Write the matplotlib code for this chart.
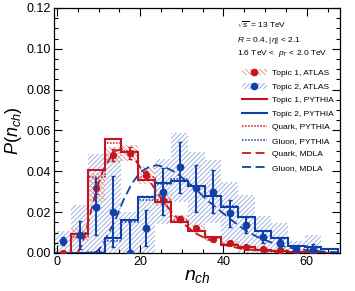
import numpy as np
import matplotlib
matplotlib.use("Agg")
import matplotlib.pyplot as plt
from matplotlib.patches import Patch
from matplotlib.lines import Line2D
from matplotlib.ticker import MultipleLocator, FormatStrFormatter

plt.rcParams['font.family'] = ['Liberation Sans', 'DejaVu Sans']
plt.rcParams['mathtext.fontset'] = 'custom'
plt.rcParams['mathtext.rm'] = 'Liberation Sans'
plt.rcParams['mathtext.it'] = 'Liberation Sans:italic'
plt.rcParams['hatch.linewidth'] = 0.6

# ── data (bins of width 4, centres 1.5 ... 65.5) ─────────────────────
bin_edges = [-0.5, 3.5, 7.5, 11.5, 15.5, 19.5, 23.5, 27.5, 31.5, 35.5,
             39.5, 43.5, 47.5, 51.5, 55.5, 59.5, 63.5, 67.5]
n_centres = [1.5, 5.5, 9.5, 13.5, 17.5, 21.5, 25.5, 29.5, 33.5, 37.5,
             41.5, 45.5, 49.5, 53.5, 57.5, 61.5, 65.5]

# Topic 1, ATLAS
t1_atlas = [0.0, 0.009, 0.032, 0.048, 0.049, 0.038, 0.026, 0.0166, 0.012, 0.007,
            0.005, 0.003, 0.002, 0.0014, 0.0009, 0.0005, np.nan]
t1_stat = [0.0005, 0.001, 0.003, 0.003, 0.003, 0.002, 0.002, 0.0015, 0.0012, 0.001,
           0.0008, 0.0006, 0.0005, 0.0004, 0.0003, 0.0002, 0.0]
t1_syst = [0.001, 0.003, 0.007, 0.004, 0.004, 0.004, 0.003, 0.002, 0.0015, 0.0012,
           0.001, 0.0008, 0.0006, 0.0004, 0.0003, 0.0002, 0.0]

# Topic 2, ATLAS
t2_atlas = [0.006, 0.0088, 0.0227, 0.0202, 0.0, 0.0123, 0.030, 0.042, 0.0317, 0.030,
            0.0194, 0.0137, 0.008, 0.0047, 0.002, 0.0015, np.nan]
t2_stat = [0.002, 0.0068, 0.014, 0.0175, 0.016, 0.009, 0.0115, 0.0125, 0.0115, 0.0105,
           0.0065, 0.004, 0.003, 0.002, 0.0015, 0.003, 0.0]
t2_syst = [0.005, 0.0147, 0.026, 0.029, 0.02, 0.016, 0.016, 0.017, 0.018, 0.0155,
           0.0156, 0.0147, 0.010, 0.010, 0.004, 0.0073, 0.0]

# PYTHIA histograms
t1_pythia = [0.0, 0.0095, 0.0405, 0.056, 0.0496, 0.0357, 0.025, 0.015, 0.011, 0.008,
             0.004, 0.003, 0.0015, 0.001, 0.0005, 0.0003, 0.0002]
t2_pythia = [0.0, 0.0, 0.0, 0.0072, 0.016, 0.0274, 0.0345, 0.0355, 0.033, 0.028,
             0.0225, 0.0176, 0.011, 0.0073, 0.0034, 0.003, 0.002]
quark_pythia = [0.0, 0.008, 0.0374, 0.0537, 0.050, 0.037, 0.026, 0.016, 0.011, 0.0075,
                0.0045, 0.003, 0.0017, 0.001, 0.0006, 0.0003, 0.0002]
gluon_pythia = [0.0, 0.0, 0.0005, 0.006, 0.015, 0.026, 0.034, 0.036, 0.033, 0.028,
                0.023, 0.0175, 0.011, 0.0075, 0.0035, 0.003, 0.002]

# MDLA curves
quark_mdla_n = [5, 6, 7, 8, 9, 10, 11, 12, 14, 16, 18, 20, 22, 24, 26, 28, 30, 33,
                36, 40, 44, 48, 52, 56, 60, 64, 68]
quark_mdla = [0.0, 0.004, 0.011, 0.019, 0.027, 0.034, 0.040, 0.044, 0.050, 0.051,
              0.048, 0.042, 0.036, 0.030, 0.024, 0.019, 0.015, 0.010, 0.0068, 0.004,
              0.0022, 0.0012, 0.0006, 0.0003, 0.00015, 0.00008, 0.00004]
gluon_mdla_n = [9, 10, 11, 12, 13, 14, 15, 16, 17, 18, 20, 22, 24, 26, 28, 30, 33,
                36, 39, 42, 45, 48, 51, 54, 57, 60, 64, 68]
gluon_mdla = [0.0, 0.0015, 0.004, 0.008, 0.012, 0.016, 0.021, 0.026, 0.030, 0.034,
              0.0395, 0.042, 0.043, 0.042, 0.040, 0.037, 0.032, 0.026, 0.021, 0.016,
              0.0115, 0.008, 0.0055, 0.0035, 0.0022, 0.0014, 0.0007, 0.0003]

RED = "#c4161c"
BLUE = "#123fa8"
RED_HATCH = "#e48888"
BLUE_HATCH = "#8ea6d8"
RED_PAT = "\\" * 7
BLUE_PAT = "/" * 7

fig = plt.figure(figsize=(3.55, 2.91), dpi=100)
ax = fig.add_axes([0.152, 0.1306, 0.806, 0.842])

# ── systematic boxes ────────────────────────────────────────────────
def syst_boxes(vals, syst, hatch, color, z):
    v = np.array(vals, dtype=float)
    s = np.array(syst, dtype=float)
    lo = np.clip(v - s, 0, None)
    hi = v + s
    ok = ~np.isnan(v)
    ax.bar(np.array(n_centres)[ok], (hi - lo)[ok], bottom=lo[ok], width=4,
           facecolor="none", edgecolor=color, hatch=hatch, linewidth=0, zorder=z)

syst_boxes(t2_atlas, t2_syst, BLUE_PAT, BLUE_HATCH, 1)
syst_boxes(t1_atlas, t1_syst, RED_PAT, RED_HATCH, 2)

# ── PYTHIA histograms ───────────────────────────────────────────────
ax.stairs(t1_pythia, bin_edges, color=RED, linewidth=1.5, zorder=4)
ax.stairs(t2_pythia, bin_edges, color=BLUE, linewidth=1.5, zorder=4)
ax.stairs(quark_pythia, bin_edges, color=RED, linewidth=1.1, linestyle=(0, (1, 1)), zorder=5)
ax.stairs(gluon_pythia, bin_edges, color=BLUE, linewidth=1.1, linestyle=(0, (1, 1)), zorder=5)

# ── MDLA ────────────────────────────────────────────────────────────
ax.plot(quark_mdla_n, quark_mdla, color=RED, linewidth=1.3, dashes=(5, 2.5), zorder=6)
ax.plot(gluon_mdla_n, gluon_mdla, color=BLUE, linewidth=1.3, dashes=(5, 2.5), zorder=6)

# ── data points ─────────────────────────────────────────────────────
ax.errorbar(n_centres, t1_atlas, yerr=t1_stat, fmt="o", color=RED, markersize=4.2,
            elinewidth=1.2, capsize=1.5, capthick=1.0, zorder=7)
ax.errorbar(n_centres, t2_atlas, yerr=t2_stat, fmt="o", color=BLUE, markersize=4.6,
            elinewidth=1.4, capsize=1.5, capthick=1.0, zorder=8)

ax.set_xlim(-0.7, 68)
ax.set_ylim(0, 0.12)
ax.xaxis.set_major_locator(MultipleLocator(20))
ax.xaxis.set_minor_locator(MultipleLocator(5))
ax.yaxis.set_major_locator(MultipleLocator(0.02))
ax.yaxis.set_minor_locator(MultipleLocator(0.005))
ax.yaxis.set_major_formatter(FormatStrFormatter("%.2f"))
ax.tick_params(which="both", direction="in", top=True, right=True, labelsize=9,
               width=0.8, pad=2)
ax.tick_params(which="major", length=6)
ax.tick_params(which="minor", length=3)
for sp in ax.spines.values():
    sp.set_linewidth(0.9)

ax.set_xlabel(r"$n_{ch}$", fontsize=14, labelpad=0)
ax.set_ylabel(r"$P(n_{ch})$", fontsize=13, labelpad=2)

# ── annotations ─────────────────────────────────────────────────────
ax.text(0.64, 0.93, r"$\sqrt{s}$ = 13 TeV", transform=ax.transAxes, fontsize=6, va="center")
ax.text(0.64, 0.869, r"$R$ = 0.4, $|\eta|$ < 2.1", transform=ax.transAxes, fontsize=6, va="center")
ax.text(0.64, 0.816, r"1.6 TeV <  $p_{\rm T}$ < 2.0 TeV", transform=ax.transAxes,
        fontsize=6, va="center")

handles = [
    (Patch(facecolor="none", edgecolor=RED_HATCH, hatch=RED_PAT, linewidth=0),
     Line2D([], [], color=RED, marker="o", linestyle="none", markersize=4.5)),
    (Patch(facecolor="none", edgecolor=BLUE_HATCH, hatch=BLUE_PAT, linewidth=0),
     Line2D([], [], color=BLUE, marker="o", linestyle="none", markersize=4.5)),
    Line2D([], [], color=RED, linewidth=1.5),
    Line2D([], [], color=BLUE, linewidth=1.5),
    Line2D([], [], color=RED, linewidth=1.1, linestyle=(0, (1, 1))),
    Line2D([], [], color=BLUE, linewidth=1.1, linestyle=(0, (1, 1))),
    Line2D([], [], color=RED, linewidth=1.3, dashes=(5, 2.5)),
    Line2D([], [], color=BLUE, linewidth=1.3, dashes=(5, 2.5)),
]
labels = ["Topic 1, ATLAS", "Topic 2, ATLAS", "Topic 1, PYTHIA", "Topic 2, PYTHIA",
          "Quark, PYTHIA", "Gluon, PYTHIA", "Quark, MDLA", "Gluon, MDLA"]
ax.legend(handles, labels, loc="upper left", bbox_to_anchor=(0.657, 0.75),
          frameon=False, fontsize=6, handlelength=3.0, handletextpad=0.6,
          labelspacing=0.68, borderaxespad=0, borderpad=0)

fig.savefig("out.png", dpi=100)
